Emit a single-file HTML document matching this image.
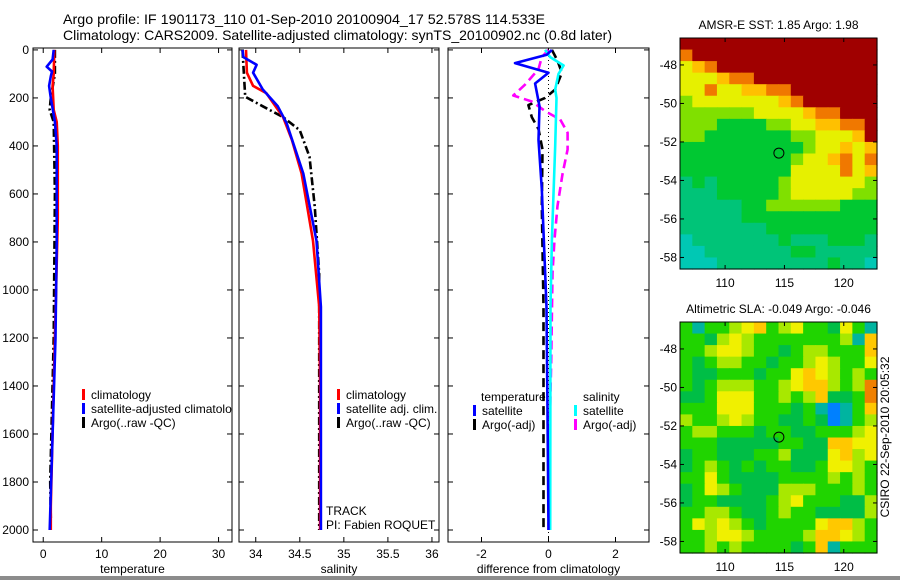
<!DOCTYPE html>
<html><head><meta charset="utf-8"><style>
html,body{margin:0;padding:0;background:#fff;width:900px;height:580px;overflow:hidden}
svg{display:block;font-family:"Liberation Sans",sans-serif}
</style></head><body>
<svg id="fig" width="900" height="580" viewBox="0 0 900 580">
<rect x="0" y="0" width="900" height="580" fill="#fff"/>
<rect x="0" y="576" width="900" height="4" fill="#8c8c8c"/>
<text x="63" y="24" font-size="14" textLength="482" lengthAdjust="spacingAndGlyphs">Argo profile: IF 1901173_110 01-Sep-2010 20100904_17 52.578S 114.533E</text>
<text x="63" y="40" font-size="14" textLength="549" lengthAdjust="spacingAndGlyphs">Climatology: CARS2009. Satellite-adjusted climatology: synTS_20100902.nc (0.8d later)</text>
<g id="plots"></g>
</svg>
<script>
// ---- profile data (depth in dbar) ----
const depthTicks=[0,200,400,600,800,1000,1200,1400,1600,1800,2000];
const tTicks=[0,10,20,30];
const sTicks=[34,34.5,35,35.5,36];
const dTicks=[-2,0,2];
// temperature
const tClimD=[0,100,150,250,300,400,700,1000,1400,1900,2000];
const tClimV=[1.9,1.8,1.6,1.8,2.3,2.5,2.5,2.2,1.8,1.3,1.3];
const tSatD=[0,40,70,90,110,150,200,300,400,800,1200,1600,2000];
const tSatV=[1.8,1.6,0.6,1.5,1.3,1.0,1.3,2.0,2.3,2.3,2.1,1.6,1.1];
const tArgoD=[0,100,200,250,300,600,1200,1800,1950];
const tArgoV=[2.0,2.0,1.3,1.1,1.8,2.0,1.8,1.2,1.3];
// salinity
const sClimD=[0,95,150,180,280,375,515,795,1070,1400,2000];
const sClimV=[33.89,33.9,33.97,34.12,34.31,34.41,34.52,34.65,34.72,34.73,34.73];
const sSatD=[0,30,62,95,165,235,305,515,795,1070,1400,2000];
const sSatV=[33.85,33.86,34.01,33.97,34.08,34.25,34.35,34.54,34.69,34.74,34.74,34.74];
const sArgoD=[0,195,235,280,335,445,655,935,1200,2000];
const sArgoV=[33.85,33.88,34.08,34.31,34.5,34.61,34.67,34.72,34.72,34.72];
// differences from climatology
const dTSatD=[0,20,55,95,140,235,375,580,1070,1500,2000];
const dTSatV=[0.1,-0.05,-1.0,0,-0.4,-0.27,-0.3,-0.2,-0.06,-0.03,0];
const dSSatD=[0,30,65,100,165,200,400,790,1070,2000];
const dSSatV=[-0.1,0.05,0.45,0.3,0.2,0.24,0.2,0.1,0.06,0.05];
const dTArgoD=[0,45,95,165,200,230,280,330,415,650,1070,1500,2000];
const dTArgoV=[0.1,0.27,0.4,0.2,-0.1,-0.6,-0.5,-0.3,-0.18,-0.2,-0.15,-0.15,-0.15];
const dSArgoD=[0,30,80,145,190,215,255,290,345,415,515,650,790,930,1300,1800,2000];
const dSArgoV=[0,-0.2,-0.3,-0.7,-1.05,-0.5,-0.1,0.35,0.57,0.57,0.42,0.27,0.18,0.12,0.08,0,0];
// maps (colour level grids, rows north->south)
const sstGrid=["7777777777777777","6777777777777777","4567777777777777","4445667777777777","4464455667777777","3444444456777777","3333334444566777","3332222334455667","3322222223344457","2222222222344545","2222222223445646","2222222224444645","1212222234444443","1112222234444433","1111122333333222","1111122222222222","1111111222222222","0111111121112221","0011111112211111","0001111111112110"];
const sstColors=["#00c8b4","#00c478","#00c832","#80e000","#e6f000","#ffc000","#f07800","#a00000"];
const slaGrid=["3133456345332531","3324543333333416","3345543323443336","3234433233454335","3223332335654343","3234443345664347","2235553343462237","3335553332310136","4334543322320134","3443332332233345","3332222233226655","2332223342225645","2343232332235543","3353222233334343","2354322244433343","2332222345333224","3344322343322224","3545432333356643","3345543333466543","3343433332361333"];
const slaColors=["#0080ff","#00b4a0","#00be46","#20d400","#a8e800","#f0f000","#ffc800","#f08000"];
const argoLon=114.533, argoLat=-52.578;
const latTicks=[-48,-50,-52,-54,-56,-58];
const lonTicks=[110,115,120];

const NS="http://www.w3.org/2000/svg";
const root=document.getElementById('plots');
function mk(tag,attrs,parent){const e=document.createElementNS(NS,tag);for(const k in attrs)e.setAttribute(k,attrs[k]);(parent||root).appendChild(e);return e;}
const yTop=48,yBot=542,dMin=-8,dMax=2050;
function yD(d){return yTop+(d-dMin)/(dMax-dMin)*(yBot-yTop);}

function panel(name,x0,x1,vmin,vmax,ticks,xlabel,showY){
  const g=mk('g',{});
  
  
  const sx=v=>x0+(v-vmin)/(vmax-vmin)*(x1-x0);
  const box=mk('rect',{x:x0,y:yTop,width:x1-x0,height:yBot-yTop,fill:'#fff',stroke:'#000','stroke-width':1},g);
  
  
  ticks.forEach(t=>{
    const x=sx(t);
    mk('line',{x1:x,x2:x,y1:yBot,y2:yBot-5,stroke:'#000'},g);
    mk('line',{x1:x,x2:x,y1:yTop,y2:yTop+5,stroke:'#000'},g);
    const tx=mk('text',{x:x,y:yBot+16,'font-size':12,'text-anchor':'middle'},g);
    tx.textContent=String(t);
    
    
  });
  depthTicks.forEach(d=>{
    const y=yD(d);
    mk('line',{x1:x0,x2:x0+5,y1:y,y2:y,stroke:'#000'},g);
    mk('line',{x1:x1,x2:x1-5,y1:y,y2:y,stroke:'#000'},g);
    if(showY){
      const tx=mk('text',{x:x0-4,y:y+4,'font-size':12,'text-anchor':'end'},g);
      tx.textContent=String(d);
      
      
    }
  });
  const xl=mk('text',{x:(x0+x1)/2,y:573,'font-size':12,'text-anchor':'middle'},g);
  xl.textContent=xlabel;
  
  
  return {g,sx};
}
function line(p,D,V,color,dash,name,w){
  const pts=D.map((d,i)=>p.sx(V[i]).toFixed(1)+','+yD(d).toFixed(1)).join(' ');
  const a={points:pts,fill:'none',stroke:color,'stroke-width':w||2.6,'stroke-linejoin':'round'};
  if(dash)a['stroke-dasharray']=dash;
  const e=mk('polyline',a,p.g);
  
  
}
function legend(p,x,y,color,label,name){
  mk('rect',{x:x,y:y-9,width:3,height:11,fill:color},p.g);
  const t=mk('text',{x:x+9,y:y+1,'font-size':12},p.g);
  t.textContent=label;
  
  
}

// panel 1: temperature
const p1=panel('temperature-panel',33,232,-1.75,32.3,tTicks,'temperature',true);
line(p1,tArgoD,tArgoV,'#000','8,3,2,3','argo-temperature-line');
line(p1,tClimD,tClimV,'#ff0000',null,'climatology-temperature-line');
line(p1,tSatD,tSatV,'#0000ff',null,'satellite-temperature-line');
legend(p1,82,398,'#ff0000','climatology','legend-climatology');
legend(p1,82,412,'#0000ff','satellite-adjusted climatolo','legend-satellite-adjusted');
legend(p1,82,426,'#000','Argo(..raw -QC)','legend-argo');
// panel 2: salinity
const p2=panel('salinity-panel',239,439,33.81,36.08,sTicks,'salinity',false);
line(p2,sArgoD,sArgoV,'#000','8,3,2,3','argo-salinity-line');
line(p2,sClimD,sClimV,'#ff0000',null,'climatology-salinity-line');
line(p2,sSatD,sSatV,'#0000ff',null,'satellite-salinity-line');
legend(p2,337,398,'#ff0000','climatology','legend-sal-climatology');
legend(p2,337,412,'#0000ff','satellite adj. clim.','legend-sal-satellite');
legend(p2,337,426,'#000','Argo(..raw -QC)','legend-sal-argo');
const tr=mk('text',{x:326,y:515,'font-size':12},p2.g);tr.textContent='TRACK';


const pi=mk('text',{x:326,y:529,'font-size':12},p2.g);pi.textContent='PI: Fabien ROQUET';


// panel 3: differences
const p3=panel('difference-panel',448,649,-3,3,dTicks,'difference from climatology',false);
mk('line',{x1:p3.sx(0),x2:p3.sx(0),y1:yTop,y2:yBot,stroke:'#000','stroke-dasharray':'1,3'},p3.g);
line(p3,dTArgoD,dTArgoV,'#000','9,5','argo-temperature-diff-line');
line(p3,dSArgoD,dSArgoV,'#ff00ff','9,5','argo-salinity-diff-line');
line(p3,dSSatD,dSSatV,'#00ffff',null,'satellite-salinity-diff-line');
line(p3,dTSatD,dTSatV,'#0000ff',null,'satellite-temperature-diff-line');
const lt=mk('text',{x:481,y:401,'font-size':12},p3.g);lt.textContent='temperature';


const ls=mk('text',{x:583,y:401,'font-size':12},p3.g);ls.textContent='salinity';


legend(p3,473,414,'#0000ff','satellite','legend-temp-satellite');
legend(p3,473,428,'#000','Argo(-adj)','legend-temp-argo');
legend(p3,574,414,'#00ffff','satellite','legend-sal-satellite-diff');
legend(p3,574,428,'#ff00ff','Argo(-adj)','legend-sal-argo-diff');

// maps
function map(name,grid,colors,x0,y0,x1,y1,title){
  const g=mk('g',{});
  
  
  const lonMin=106.2,lonMax=122.8,latMax=-46.6,latMin=-58.6;
  const lx=v=>x0+(v-lonMin)/(lonMax-lonMin)*(x1-x0);
  const ly=v=>y0+(latMax-v)/(latMax-latMin)*(y1-y0);
  const rows=grid.length,cols=grid[0].length;
  const cw=(x1-x0)/cols,ch=(y1-y0)/rows;
  grid.forEach((row,r)=>{for(let c=0;c<cols;c++){
    const cell=mk('rect',{x:(x0+c*cw).toFixed(2),y:(y0+r*ch).toFixed(2),width:(cw+0.6).toFixed(2),height:(ch+0.6).toFixed(2),fill:colors[+row[c]]},g);
    
    
  }});
  mk('rect',{x:x0,y:y0,width:x1-x0,height:y1-y0,fill:'none',stroke:'#000'},g);
  latTicks.forEach(t=>{const y=ly(t);
    mk('line',{x1:x0,x2:x0+4,y1:y,y2:y,stroke:'#000'},g);
    mk('line',{x1:x1,x2:x1-4,y1:y,y2:y,stroke:'#000'},g);
    const tx=mk('text',{x:x0-3,y:y+4,'font-size':12,'text-anchor':'end'},g);tx.textContent=String(t);
    
    });
  lonTicks.forEach(t=>{const x=lx(t);
    mk('line',{x1:x,x2:x,y1:y1,y2:y1-4,stroke:'#000'},g);
    mk('line',{x1:x,x2:x,y1:y0,y2:y0+4,stroke:'#000'},g);
    const tx=mk('text',{x:x,y:y1+18,'font-size':12,'text-anchor':'middle'},g);tx.textContent=String(t);
    
    });
  const c=mk('circle',{cx:lx(argoLon),cy:ly(argoLat),r:5,fill:'none',stroke:'#000','stroke-width':1},g);
  
  
  const tt=mk('text',{x:(x0+x1)/2,y:y0-9,'font-size':12,'text-anchor':'middle'},g);tt.textContent=title;
  
  
}
map('sst-map',sstGrid,sstColors,680,38,877,269,'AMSR-E SST: 1.85 Argo: 1.98');
map('sla-map',slaGrid,slaColors,680,322,877,553,'Altimetric SLA: -0.049 Argo: -0.046');
const cs=mk('text',{x:0,y:0,'font-size':12,'text-anchor':'middle',transform:'translate(889,437) rotate(-90)'});
cs.textContent='CSIRO 22-Sep-2010 20:05:32';


</script>
</body></html>
